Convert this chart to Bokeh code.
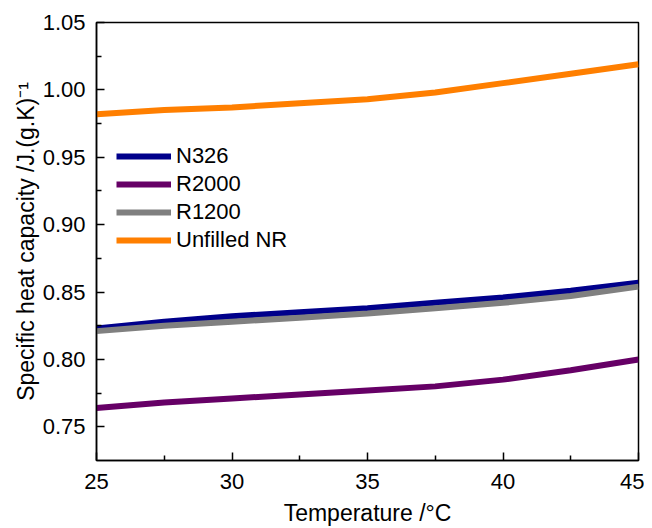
from bokeh.plotting import figure
from bokeh.embed import file_html
from bokeh.resources import INLINE
from bokeh.models import Legend, LegendItem, FixedTicker, Range1d, CustomJSTickFormatter

temperature = [25, 27.5, 30, 32.5, 35, 37.5, 40, 42.5, 45]
n326 = [0.823, 0.828, 0.832, 0.835, 0.838, 0.842, 0.846, 0.851, 0.857]
r2000 = [0.764, 0.768, 0.771, 0.774, 0.777, 0.780, 0.785, 0.792, 0.800]
r1200 = [0.821, 0.825, 0.828, 0.831, 0.834, 0.838, 0.842, 0.847, 0.854]
unfilled = [0.982, 0.985, 0.987, 0.990, 0.993, 0.998, 1.005, 1.012, 1.019]
series_names = ["N326", "R2000", "R1200", "Unfilled NR"]
x_ticks = [25, 30, 35, 40, 45]
y_ticks = [0.75, 0.80, 0.85, 0.90, 0.95, 1.00, 1.05]
x_title = "Temperature /°C"
y_title = "Specific heat capacity /J.(g.K)⁻¹"

colors = ["#00008B", "#660066", "#808080", "#FF7F00"]
FONT = "Liberation Sans"

p = figure(width=644, height=528, output_backend="svg", toolbar_location=None,
           x_range=Range1d(25, 45), y_range=Range1d(0.725, 1.05),
           min_border_left=96, min_border_right=6, min_border_top=22, min_border_bottom=68)
p.grid.visible = False
p.outline_line_color = "black"
p.outline_line_width = 1.5
p.background_fill_color = "white"
p.border_fill_color = "white"

items = []
for name, ys, c in zip(series_names, [n326, r2000, r1200, unfilled], colors):
    r = p.line(temperature, ys, line_color=c, line_width=6)
    items.append(LegendItem(label=name, renderers=[r]))

leg = Legend(items=items, location=(20, 206), border_line_color=None,
             background_fill_alpha=0, padding=10, margin=0, spacing=0,
             glyph_width=55, glyph_height=28, label_height=28, label_standoff=5,
             label_text_font=FONT, label_text_font_size="22px", label_text_color="black")
p.add_layout(leg)

for ax in (p.xaxis[0], p.yaxis[0]):
    ax.axis_line_width = 1.5
    ax.major_tick_line_width = 1.5
    ax.minor_tick_line_width = 1.5
    ax.major_tick_in = 8
    ax.major_tick_out = 0
    ax.minor_tick_in = 5
    ax.minor_tick_out = 0
    ax.major_label_text_font = FONT
    ax.major_label_text_font_size = "22px"
    ax.major_label_text_color = "black"
    ax.axis_label_text_font = FONT
    ax.axis_label_text_font_size = "23px"
    ax.axis_label_text_font_style = "normal"
    ax.axis_label_text_color = "black"

p.xaxis.ticker = FixedTicker(ticks=x_ticks, minor_ticks=[27.5, 32.5, 37.5, 42.5])
p.yaxis.ticker = FixedTicker(ticks=y_ticks, minor_ticks=[0.775, 0.825, 0.875, 0.925, 0.975, 1.025])
p.yaxis.formatter = CustomJSTickFormatter(code="return tick.toFixed(2);")
p.xaxis.major_label_standoff = 13
p.yaxis.major_label_standoff = 11
p.xaxis.axis_label = x_title
p.yaxis.axis_label = y_title
p.xaxis.axis_label_standoff = 8
p.yaxis.axis_label_standoff = 1

open("out.html", "w").write(file_html(p, INLINE))
